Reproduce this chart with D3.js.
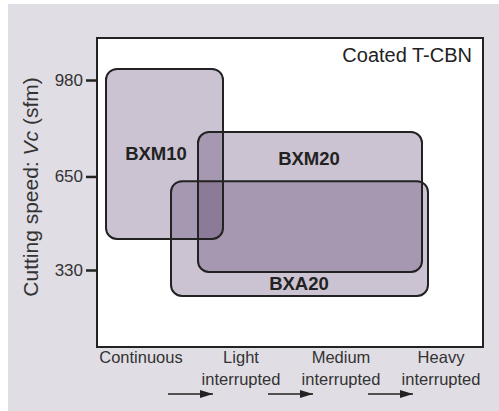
<!DOCTYPE html>
<html>
<head>
<meta charset="utf-8">
<script src="https://cdn.jsdelivr.net/npm/d3@7"></script>
<style>
  html, body { margin: 0; padding: 0; background: #fff; }
  svg { display: block; font-family: 'Liberation Sans', Arial, sans-serif; }
</style>
</head>
<body>
<svg id="chart"></svg>
<script>
// data
const categories = [['Continuous'], ['Light', 'interrupted'], ['Medium', 'interrupted'], ['Heavy', 'interrupted']];
const yTicks = [330, 650, 980];
const grades = ['BXM10', 'BXM20', 'BXA20'];
// x extents in "category" units (0 = Continuous ... 3 = Heavy)
const gradeX0 = [-0.35, 0.57, 0.30];
const gradeX1 = [0.82, 2.81, 2.87];
// speed extents in sfm
const gradeVcLow = [436, 323, 241];
const gradeVcHigh = [1018, 802, 634];
// label anchors in the same units
const labelX = [0.15, 1.68, 1.58];
const labelVc = [729, 711, 284];

var width = 499;
var height = 411;

var svg = d3.select('#chart').attr('width', width).attr('height', height);

svg.append('rect')
  .attr('x', 8).attr('y', 4)
  .attr('width', width - 8).attr('height', height - 4)
  .attr('fill', '#e0dde4');

var box = { left: 97, top: 38, right: 483, bottom: 347 };

// category 0 sits at 141px, one category = 100px
var x = d3.scaleLinear().domain([-0.44, 3.42]).range([box.left, box.right]);
var y = d3.scaleLinear().domain([330, 980]).range([270, 80]);

svg.append('rect')
  .attr('x', box.left).attr('y', box.top)
  .attr('width', box.right - box.left).attr('height', box.bottom - box.top)
  .attr('fill', '#fff');

var g = svg.append('g');

// fills first, strokes after so every outline shows through
g.selectAll('rect.fill')
  .data(grades)
  .enter()
  .append('rect')
  .attr('class', 'fill')
  .attr('x', function (d, i) { return x(gradeX0[i]); })
  .attr('y', function (d, i) { return y(gradeVcHigh[i]); })
  .attr('width', function (d, i) { return x(gradeX1[i]) - x(gradeX0[i]); })
  .attr('height', function (d, i) { return y(gradeVcLow[i]) - y(gradeVcHigh[i]); })
  .attr('rx', 11)
  .attr('fill', '#4c3060')
  .attr('fill-opacity', 0.29);

g.selectAll('rect.edge')
  .data(grades)
  .enter()
  .append('rect')
  .attr('class', 'edge')
  .attr('x', function (d, i) { return x(gradeX0[i]); })
  .attr('y', function (d, i) { return y(gradeVcHigh[i]); })
  .attr('width', function (d, i) { return x(gradeX1[i]) - x(gradeX0[i]); })
  .attr('height', function (d, i) { return y(gradeVcLow[i]) - y(gradeVcHigh[i]); })
  .attr('rx', 11)
  .attr('fill', 'none')
  .attr('stroke', '#222')
  .attr('stroke-width', 2);

g.selectAll('text.grade')
  .data(grades)
  .enter()
  .append('text')
  .attr('class', 'grade')
  .attr('x', function (d, i) { return x(labelX[i]); })
  .attr('y', function (d, i) { return y(labelVc[i]); })
  .attr('dy', '0.35em')
  .attr('text-anchor', 'middle')
  .style('font-weight', 'bold')
  .style('font-size', '18.5px')
  .style('fill', '#222')
  .text(function (d) { return d; });

// frame
svg.append('rect')
  .attr('x', box.left).attr('y', box.top)
  .attr('width', box.right - box.left).attr('height', box.bottom - box.top)
  .attr('fill', 'none')
  .attr('stroke', '#222')
  .attr('stroke-width', 2);

svg.append('text')
  .attr('x', 472).attr('y', 62)
  .attr('text-anchor', 'end')
  .style('font-size', '20px')
  .style('fill', '#222')
  .text('Coated T-CBN');

// y axis
var yAxis = svg.append('g')
  .attr('transform', 'translate(' + box.left + ',0)')
  .call(d3.axisLeft(y).tickValues(yTicks).tickSize(11).tickPadding(3));
yAxis.select('.domain').remove();
yAxis.selectAll('.tick line').attr('stroke', '#222').attr('stroke-width', 2.5);
yAxis.selectAll('.tick text')
  .style('font-size', '17px')
  .style('font-family', "'Liberation Sans', Arial, sans-serif")
  .attr('fill', '#333');

var yTitle = svg.append('text')
  .attr('transform', 'translate(38,187) rotate(-90)')
  .attr('text-anchor', 'middle')
  .style('font-size', '21px')
  .style('fill', '#333');
yTitle.append('tspan').text('Cutting speed: ');
yTitle.append('tspan').style('font-style', 'italic').text('Vc');
yTitle.append('tspan').text(' (sfm)');

// x category labels
var xl = svg.append('g').selectAll('text')
  .data(categories)
  .enter()
  .append('text')
  .attr('x', function (d, i) { return x(i); })
  .attr('y', 363)
  .attr('text-anchor', 'middle')
  .style('font-size', '16.5px')
  .style('fill', '#333');
xl.each(function (d, i) {
  var t = d3.select(this);
  d.forEach(function (line, k) {
    t.append('tspan').attr('x', x(i)).attr('dy', k === 0 ? 0 : 22).text(line);
  });
});

// arrows between categories
svg.append('defs').append('marker')
  .attr('id', 'head')
  .attr('viewBox', '0 0 13 8')
  .attr('refX', 13).attr('refY', 4)
  .attr('markerWidth', 13).attr('markerHeight', 8)
  .attr('markerUnits', 'userSpaceOnUse')
  .attr('orient', 'auto')
  .append('path')
  .attr('d', 'M0,0L13,4L0,8Z')
  .attr('fill', '#222');

svg.append('g').selectAll('line')
  .data(categories.slice(1))
  .enter()
  .append('line')
  .attr('x1', function (d, i) { return x(i + 0.27); })
  .attr('x2', function (d, i) { return x(i + 0.72); })
  .attr('y1', 394).attr('y2', 394)
  .attr('stroke', '#222')
  .attr('stroke-width', 1.5)
  .attr('marker-end', 'url(#head)');
</script>
</body>
</html>
